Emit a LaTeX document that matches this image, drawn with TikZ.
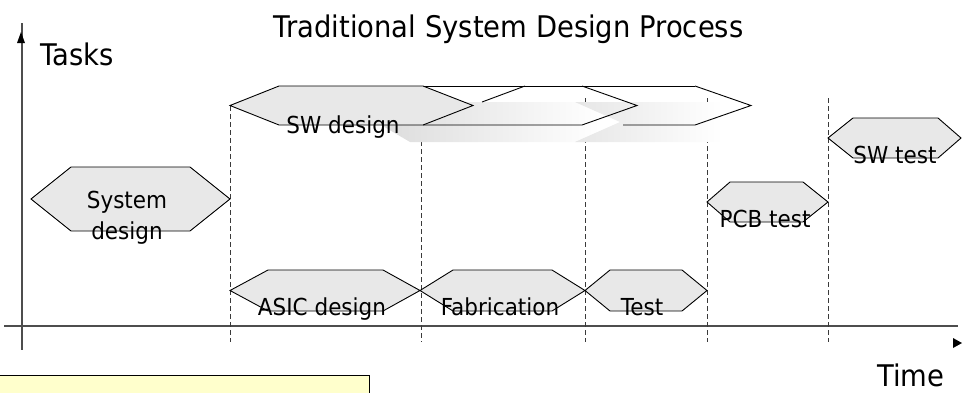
\documentclass[tikz,border=0pt]{standalone}
\usepackage{fontspec}
\setmainfont{DejaVu Sans}[FakeStretch=0.92]
\definecolor{hexgray}{HTML}{E8E8E8}
\definecolor{notebg}{HTML}{FFFFCC}
\definecolor{axisgray}{HTML}{4D4D4D}
\definecolor{dashgray}{HTML}{3A3A3A}
\definecolor{trailA}{HTML}{D6D6D6}
\definecolor{trailB}{HTML}{E6E6E6}
\begin{document}
\begin{tikzpicture}[x=1pt,y=-1pt,
  hexbox/.style={draw=black,line width=0.9pt,fill=hexgray,line join=miter},
  outline/.style={draw=black,line width=0.9pt},
  guide/.style={draw=dashgray,line width=1pt,dash pattern=on 5pt off 3pt},
  axis/.style={draw=axisgray,line width=1.4pt},
  tip/.style={fill=black},
  label/.style={inner sep=0pt,anchor=base,font=\fontsize{23.4}{28}\selectfont},
  big/.style={inner sep=0pt,anchor=base,font=\fontsize{29.8}{36}\selectfont}]
\useasboundingbox (0,0) rectangle (963,392);

% axes with their arrow heads
\draw[axis] (22,23) -- (22,350);
\draw[axis] (4,326) -- (958,326);
\fill[tip] (17,43) -- (21,32) -- (25,43) -- cycle;
\fill[tip] (953,338) -- (962,343) -- (953,348) -- cycle;

% phase boundaries
\foreach \x/\t in {230/106, 421/125, 585/98, 707/98, 828/98}
  \draw[guide] (\x,\t) -- (\x,342);

% motion trail behind the stretched SW design bar
\shade[left color=trailA, right color=white]
  (342,102) -- (600,102) -- (600,142) -- (410,142) -- cycle;
\shade[left color=trailB, right color=white]
  (575,102) -- (722,102) -- (722,142) -- (575,142) -- (620,122) -- cycle;

% outlines of the extended SW design bars
\draw[outline] (423,86) -- (695,86);
\draw[outline] (423,125) -- (582,125) -- (637,105.5) -- (582,86);
\draw[outline] (482,102) -- (525,86);
\draw[outline] (623,125) -- (695,125) -- (751,105.5) -- (695,86);

% task bars
\draw[hexbox] (230,105.5) -- (279,86) -- (423,86) -- (473,105.5) -- (423,125) -- (279,125) -- cycle;
\draw[hexbox] (31,199) -- (71,167) -- (190,167) -- (230,199) -- (190,231) -- (71,231) -- cycle;
\draw[hexbox] (230,290.5) -- (268,270) -- (383,270) -- (420,290.5) -- (383,311) -- (268,311) -- cycle;
\draw[hexbox] (420,290.5) -- (453,270) -- (552,270) -- (585,290.5) -- (552,311) -- (453,311) -- cycle;
\draw[hexbox] (585,290.5) -- (610,270) -- (682,270) -- (707,290.5) -- (682,311) -- (610,311) -- cycle;
\draw[hexbox] (707,202) -- (730,182) -- (803,182) -- (828,202) -- (803,222) -- (730,222) -- cycle;
\draw[hexbox] (828,138) -- (853,118) -- (938,118) -- (961,138) -- (938,158) -- (853,158) -- cycle;

% bar labels
\node[label] (sys1) at (127,208) {System};
\node[label] (sys2) at (127,239) {design};
\node[label] (swd) at (343,133) {SW design};
\node[label] (asic) at (322,315) {ASIC design};
\node[label] (fab) at (500,315) {Fabrication};
\node[label] (tst) at (642,315) {Test};
\node[label] (pcb) at (765,227) {PCB test};
\node[label] (swt) at (895,163) {SW test};

% titles and axis names
\node[big] (title) at (508.5,37) {Traditional System Design Process};
\node[big,anchor=base west] (tasks) at (40,65) {Tasks};
\node[big,anchor=base west] (time) at (877,386) {Time};

% note box at the lower left
\fill[notebg] (0,375) rectangle (369,395);
\draw[black,line width=1pt] (0,375) -- (369,375) -- (369,395);
\end{tikzpicture}
\end{document}
